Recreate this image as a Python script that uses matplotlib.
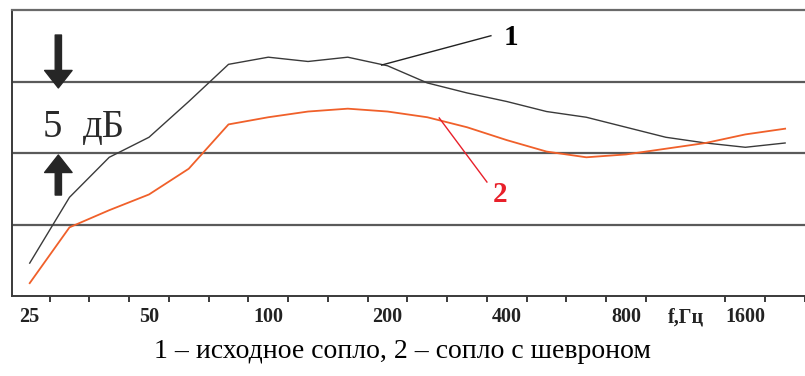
import matplotlib
matplotlib.use("Agg")
import matplotlib.pyplot as plt
import numpy as np

# Third-octave band centre frequencies, Hz
bands = ["25", "31.5", "40", "50", "63", "80", "100", "125", "160", "200",
         "250", "315", "400", "500", "630", "800", "1000", "1250", "1600", "2000"]
# Relative level, dB
curve1 = [2.3, 6.9, 9.7, 11.1, 13.6, 16.2, 16.7, 16.4, 16.7, 16.1,
          14.9, 14.2, 13.6, 12.9, 12.5, 11.8, 11.1, 10.7, 10.4, 10.7]
curve2 = [0.9, 4.8, 6.0, 7.1, 8.9, 12.0, 12.5, 12.9, 13.1, 12.9,
          12.5, 11.8, 10.9, 10.1, 9.7, 9.9, 10.3, 10.7, 11.3, 11.7]
tick_labels = ["25", "50", "100", "200", "400", "800", "1600"]
caption = "1 – исходное сопло, 2 – сопло с шевроном"

W, H = 805, 376
fig = plt.figure(figsize=(W / 100, H / 100), dpi=100)
ax = fig.add_axes([12 / W, 80 / H, (W - 12) / W, 286 / H])

x = np.arange(len(bands))
ax.plot(x, curve1, color="#3a3a3a", lw=1.0, zorder=3)
ax.plot(x, curve2, color="#f0602a", lw=1.3, zorder=3)

step = 40.4
x0 = -18 / step
ax.set_xlim(x0, x0 + (W - 12) / step)
ax.set_ylim(0, 20)

for yv in (5, 10, 15):
    ax.axhline(yv, color="#5a5a5a", lw=1.6, zorder=1)

ax.spines["right"].set_visible(False)
ax.spines["top"].set_color("#6a6a6a")
ax.spines["top"].set_linewidth(1.6)
ax.spines["left"].set_color("#3a3a3a")
ax.spines["left"].set_linewidth(1.4)
ax.spines["bottom"].set_color("#3a3a3a")
ax.spines["bottom"].set_linewidth(1.4)

ax.set_yticks([])
label_pos = [bands.index(t) for t in tick_labels]
ax.set_xticks(label_pos + [16.5])
ax.set_xticklabels(tick_labels + ["f,Гц"], fontfamily="Liberation Serif",
                   fontweight="bold", fontsize=14.5, color="#222222")
ax.tick_params(axis="x", which="major", length=0, pad=8)
ax.set_xticks(np.arange(0.5, len(bands) + 0.5, 1.0), minor=True)
ax.tick_params(axis="x", which="minor", length=4, width=1.4, color="#3a3a3a",
               direction="out")

# 5 dB scale arrows
arrow_kw = dict(arrowstyle="simple,head_length=0.7,head_width=1.1,tail_width=0.25",
                color="#262626", mutation_scale=18, shrinkA=0, shrinkB=0)
ax.annotate("", xy=(0.72, 14.55), xytext=(0.72, 18.25), arrowprops=arrow_kw)
ax.annotate("", xy=(0.72, 9.86), xytext=(0.72, 7.06), arrowprops=arrow_kw)
ax.text(0.57, 11.8, "5", fontfamily="Liberation Serif", fontsize=28,
        ha="center", va="center", color="#2a2a2a")
ax.text(1.86, 11.8, "дБ", fontfamily="Liberation Serif", fontsize=28,
        ha="center", va="center", color="#2a2a2a")

# curve labels
ax.plot([8.85, 11.6], [16.15, 18.2], color="#222222", lw=1.0, zorder=4)
ax.text(12.1, 18.1, "1", fontfamily="Liberation Serif", fontweight="bold",
        fontsize=21, ha="center", va="center", color="black")
ax.plot([10.3, 11.5], [12.45, 7.97], color="#e8202a", lw=1.0, zorder=4)
ax.text(11.82, 7.13, "2", fontfamily="Liberation Serif", fontweight="bold",
        fontsize=21, ha="center", va="center", color="#e8202a")

fig.text(0.5, 1 - 352 / H, caption, fontfamily="Liberation Serif",
         fontsize=20, ha="center", va="center", color="black")

fig.savefig("out.png", dpi=100)
